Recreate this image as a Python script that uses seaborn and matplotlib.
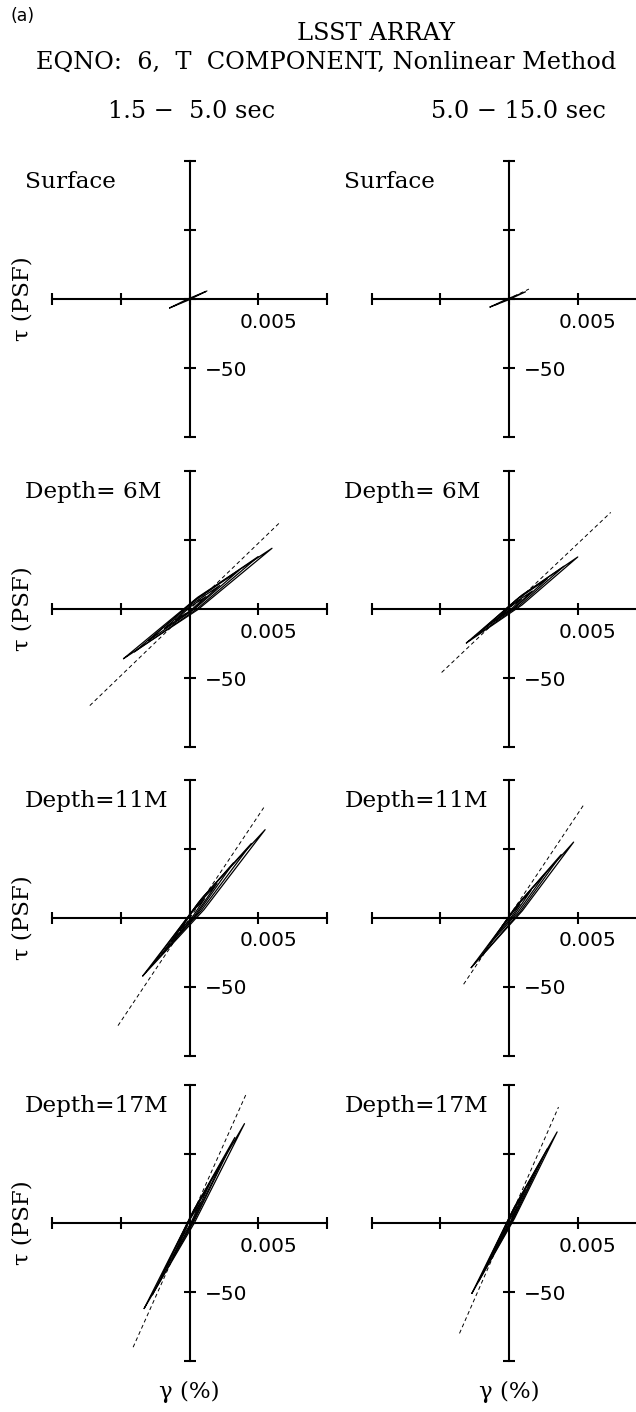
import numpy as np
import pandas as pd
import matplotlib
matplotlib.use("Agg")
import matplotlib.pyplot as plt
import seaborn as sns

# ---------------- data ----------------
row_labels = ["Surface", "Depth= 6M", "Depth=11M", "Depth=17M"]
col_titles = ["1.5 \u2212  5.0 sec", "5.0 \u2212 15.0 sec"]
x_ticks = [-0.01, -0.005, 0.0, 0.005, 0.01]
y_ticks = [-100, -50, 0, 50, 100]
x_tick_label = (0.005, "0.005")
y_tick_label = (-50, "\u221250")

# dashed reference line per panel: (strain_a, stress_a, strain_b, stress_b)
ref_short = [(-0.0012, -5.5, 0.0013, 6.0),
             (-0.00725, -70.0, 0.0065, 62.0),
             (-0.0052, -78.0, 0.0054, 80.0),
             (-0.0041, -90.0, 0.0041, 93.0)]
ref_long = [(-0.0010, -4.5, 0.00145, 7.2),
            (-0.0049, -46.0, 0.0074, 70.0),
            (-0.0033, -48.0, 0.0055, 83.0),
            (-0.0036, -80.0, 0.0036, 84.0)]

# hysteresis loops per panel: (neg-tip strain, neg-tip stress, pos-tip strain, pos-tip stress, half width in PSF)
loops_short = [
    [(-0.00145, -6.5, 0.0012, 5.5, 0.5)],
    [(-0.0048, -36.0, 0.0060, 44.0, 4.5), (-0.0040, -31.0, 0.0050, 38.0, 3.8),
     (-0.0030, -23.0, 0.0036, 28.0, 3.0), (-0.0018, -14.0, 0.0022, 17.0, 2.2),
     (-0.0010, -8.0, 0.0012, 9.0, 1.5)],
    [(-0.0034, -42.0, 0.0055, 64.0, 5.0), (-0.0028, -35.0, 0.0045, 54.0, 4.2),
     (-0.0020, -26.0, 0.0032, 40.0, 3.5), (-0.0013, -17.0, 0.0020, 25.0, 2.8),
     (-0.0007, -9.0, 0.0011, 14.0, 2.0)],
    [(-0.0033, -62.0, 0.0040, 72.0, 5.0), (-0.0027, -52.0, 0.0033, 62.0, 4.2),
     (-0.0020, -38.0, 0.0025, 47.0, 3.5), (-0.0012, -24.0, 0.0015, 29.0, 2.8),
     (-0.0007, -13.0, 0.0008, 15.0, 2.0)],
]
loops_long = [
    [(-0.00138, -5.8, 0.0012, 5.2, 0.5)],
    [(-0.0031, -24.6, 0.0050, 37.7, 3.6), (-0.0025, -20.0, 0.0040, 31.0, 3.0),
     (-0.0018, -14.0, 0.0028, 22.0, 2.4), (-0.0011, -9.0, 0.0017, 13.0, 1.8),
     (-0.0006, -5.0, 0.0009, 7.0, 1.2)],
    [(-0.00275, -36.0, 0.0047, 55.0, 4.2), (-0.0022, -30.0, 0.0038, 46.0, 3.6),
     (-0.0015, -20.0, 0.0027, 33.0, 3.0), (-0.0009, -12.0, 0.0016, 20.0, 2.2),
     (-0.0005, -6.0, 0.0008, 10.0, 1.5)],
    [(-0.0027, -51.0, 0.0035, 66.0, 4.2), (-0.0022, -42.0, 0.0028, 54.0, 3.6),
     (-0.0016, -30.0, 0.0020, 39.0, 3.0), (-0.0010, -19.0, 0.0012, 24.0, 2.2),
     (-0.0005, -10.0, 0.0006, 12.0, 1.5)],
]

# ---------------- style ----------------
sns.set_theme(style="white")
plt.rcParams["font.family"] = ["DejaVu Sans"]
plt.rcParams["text.color"] = "black"
SERIF = ["DejaVu Serif"]

W, H = 636, 1412
fig = plt.figure(figsize=(W / 100, H / 100), dpi=100)
fig.patch.set_facecolor("white")

col_left_px = [52, 371.5]
ax_w_px = 275
row_origin_px = [299, 609, 918, 1223]
half_h_px = 138


def loop_frame(loop, k):
    g1, t1, g2, t2, w = loop
    gm, tm = (g1 + g2) / 2, (t1 + t2) / 2
    xs = [g1, gm, g2, gm, g1]
    ys = [t1, tm + w, t2, tm - w, t1]
    return pd.DataFrame({"strain": xs, "stress": ys, "loop": k, "order": range(5)})


for r in range(4):
    for c in range(2):
        left = col_left_px[c] / W
        bottom = 1 - (row_origin_px[r] + half_h_px) / H
        ax = fig.add_axes([left, bottom, ax_w_px / W, 2 * half_h_px / H])
        ax.patch.set_visible(False)
        ax.set_xlim(x_ticks[0], x_ticks[-1])
        ax.set_ylim(y_ticks[0], y_ticks[-1])

        ref = (ref_short if c == 0 else ref_long)[r]
        ref_df = pd.DataFrame({"strain": [ref[0], ref[2]], "stress": [ref[1], ref[3]]})
        sns.lineplot(data=ref_df, x="strain", y="stress", ax=ax, color="black",
                     lw=0.7, linestyle=(0, (4, 3)), sort=False, estimator=None)

        loops = (loops_short if c == 0 else loops_long)[r]
        ldf = pd.concat([loop_frame(lp, k) for k, lp in enumerate(loops)], ignore_index=True)
        sns.lineplot(data=ldf, x="strain", y="stress", units="loop", ax=ax,
                     color="black", lw=0.9, sort=False, estimator=None)

        for s in ["top", "right"]:
            ax.spines[s].set_visible(False)
        for s in ["left", "bottom"]:
            ax.spines[s].set_position(("data", 0))
            ax.spines[s].set_linewidth(1.5)
            ax.spines[s].set_color("black")
        ax.set_xticks(x_ticks)
        ax.set_yticks(y_ticks)
        ax.tick_params(direction="inout", length=8, width=1.5, color="black",
                       labelbottom=False, labelleft=False, bottom=True, left=True)
        ax.set_xlabel("")
        ax.set_ylabel("")
        ax.grid(False)

        ax.annotate(x_tick_label[1], xy=(x_tick_label[0], 0), xytext=(10, -23),
                    textcoords="offset pixels", ha="center", va="center",
                    fontsize=14.5, family=["DejaVu Sans"])
        ax.annotate(y_tick_label[1], xy=(0, y_tick_label[0]), xytext=(15, -2),
                    textcoords="offset pixels", ha="left", va="center",
                    fontsize=14.5, family=["DejaVu Sans"])
        ax.annotate(row_labels[r], xy=(0, 1), xycoords="axes fraction",
                    xytext=(-27, -21), textcoords="offset pixels",
                    ha="left", va="center", fontsize=16.7, family=SERIF)
        if c == 0:
            ax.annotate("\u03c4 (PSF)", xy=(0, 0.5), xycoords="axes fraction",
                        xytext=(-30, 0), textcoords="offset pixels", rotation=90,
                        ha="center", va="center", fontsize=16.5, family=SERIF)
        if r == 3:
            ax.annotate("\u03b3 (%)", xy=(0, 0), xycoords=("data", "axes fraction"),
                        xytext=(0, -31), textcoords="offset pixels",
                        ha="center", va="center", fontsize=16.5, family=SERIF)

fig.text(10 / W, 1 - 16 / H, "(a)", ha="left", va="center", fontsize=12.5,
         family=["DejaVu Sans"])
fig.text(376 / W, 1 - 33 / H, "LSST ARRAY", ha="center", va="center",
         fontsize=17.3, family=SERIF)
fig.text(326 / W, 1 - 62 / H, "EQNO:  6,  T  COMPONENT, Nonlinear Method",
         ha="center", va="center", fontsize=17.3, family=SERIF)
fig.text(192 / W, 1 - 111 / H, col_titles[0], ha="center", va="center",
         fontsize=17.3, family=SERIF)
fig.text(518 / W, 1 - 111 / H, col_titles[1], ha="center", va="center",
         fontsize=17.3, family=SERIF)

fig.savefig("out.png", dpi=100, facecolor="white")
